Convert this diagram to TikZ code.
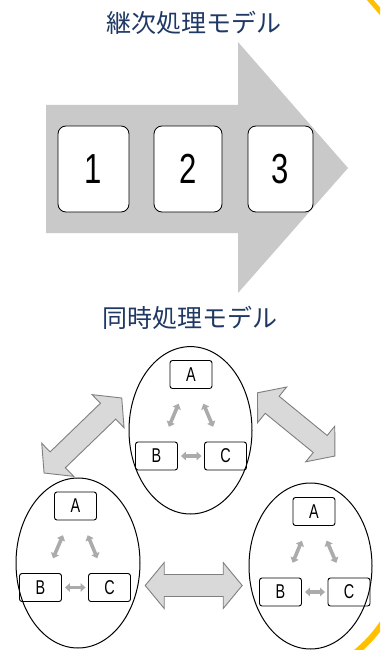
\documentclass[tikz,border=0pt]{standalone}
\usepackage{fontspec}
\newfontfamily\cjk{Noto Sans CJK JP}
\newfontfamily\nsf[FakeStretch=0.72]{Liberation Sans}
\newfontfamily\dsf[FakeStretch=0.74]{Liberation Sans}
\usetikzlibrary{arrows.meta,shapes.geometric}
\definecolor{navy}{HTML}{1F3864}
\definecolor{arrgray}{HTML}{C9C9C9}
\definecolor{dblfill}{HTML}{D9D9D9}
\definecolor{dbldraw}{HTML}{7F7F7F}
\definecolor{innergray}{HTML}{ABABAB}
\definecolor{gold}{HTML}{FFC000}
\newcommand\dblarr[3]{\draw[bigarr, shift={#1}, rotate=#2] (-#3,0) -- (-#3+19,-23) -- (-#3+19,-11) -- (#3-19,-11) -- (#3-19,-23) -- (#3,0) -- (#3-19,23) -- (#3-19,11) -- (-#3+19,11) -- (-#3+19,23) -- cycle;}
\begin{document}
\begin{tikzpicture}[x=1pt,y=-1pt,
  title/.style={font=\cjk\fontsize{25}{30}\selectfont, text=navy, inner sep=0},
  numbox/.style={draw=black, line width=0.8pt, fill=white, rounded corners=8pt, minimum height=86pt, inner sep=0, font=\dsf\fontsize{42}{46}\selectfont},
  abox/.style={draw=black, line width=0.9pt, fill=white, rounded corners=2.5pt, minimum width=42pt, minimum height=28pt, inner sep=0, font=\nsf\fontsize{20}{22}\selectfont},
  oval/.style={draw=black, line width=1pt, ellipse, inner sep=0},
  bigarr/.style={fill=dblfill, draw=dbldraw, line width=0.9pt, line join=miter},
  inarr/.style={draw=innergray, line width=3.6pt, {Triangle[width=8.5pt,length=5pt]}-{Triangle[width=8.5pt,length=5pt]}},
  slant/.style={inarr, shorten <=16pt, shorten >=16pt},
  flat/.style={inarr, shorten <=3pt, shorten >=2.5pt}
]
\useasboundingbox (0,0) rectangle (380,650);
\fill[white] (0,0) rectangle (380,650);
\clip (0,0) rectangle (380,650);

% decorative corners
\draw[gold, line width=5pt] (365,-6) -- (385,17);
\draw[gold, line width=6pt] (354,654) .. controls (366,644) and (374,636) .. (384,621);

% titles
\node[title] (t1) at (193.5,23) {継次処理モデル};
\node[title] (t2) at (190,317.5) {同時処理モデル};

% sequential model
\fill[arrgray] (46,105) -- (238,105) -- (238,42) -- (348,168) -- (238,293) -- (238,233) -- (46,233) -- cycle;
\node[numbox, minimum width=71pt] (n1) at (93.5,169) {1};
\node[numbox, minimum width=68pt] (n2) at (188,169) {2};
\node[numbox, minimum width=65pt] (n3) at (280.5,169) {3};

% simultaneous model: top group
\node[abox] (ta) at (191,374.5) {A};
\node[abox] (tb) at (156.5,456) {B};
\node[abox] (tc) at (225.5,456) {C};
\draw[slant] (ta) -- (tb);
\draw[slant] (ta) -- (tc);
\draw[flat] (tb) -- (tc);
\node[oval, minimum width=123pt, minimum height=167.4pt] (et) at (190.5,430.3) {};

% left group
\node[abox] (la) at (75.5,506) {A};
\node[abox] (lb) at (40.5,587.5) {B};
\node[abox] (lc) at (109.5,587.5) {C};
\draw[slant] (la) -- (lb);
\draw[slant] (la) -- (lc);
\draw[flat] (lb) -- (lc);
\node[oval, minimum width=124pt, minimum height=170pt] (el) at (78,563) {};

% right group
\node[abox] (ra) at (314,511.5) {A};
\node[abox] (rb) at (280.5,592) {B};
\node[abox] (rc) at (349,592) {C};
\draw[slant] (ra) -- (rb);
\draw[slant] (ra) -- (rc);
\draw[flat] (rb) -- (rc);
\node[oval, minimum width=123pt, minimum height=166pt] (er) at (310.5,566) {};

% big double arrows between groups
\dblarr{(82.9,435.5)}{44}{54}
\dblarr{(296.2,424.4)}{-39.2}{50}
\dblarr{(193.7,585.5)}{0}{48.5}
\end{tikzpicture}
\end{document}
